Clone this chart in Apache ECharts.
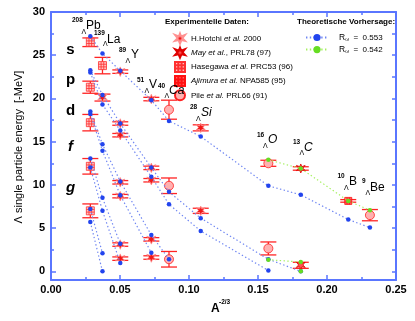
<!DOCTYPE html>
<html>
<head>
<meta charset="utf-8">
<script src="https://cdn.jsdelivr.net/npm/echarts@6/dist/echarts.min.js"></script>
<style>html,body{margin:0;padding:0;background:#fff}#chart{width:415px;height:321px}</style>
</head>
<body>
<div id="chart"></div>
<script>
var nuclei = ['Pb', 'La', 'Y', 'V', 'Ca', 'Si', 'O', 'C', 'B', 'Be'];
var xPos = [0.0285, 0.0373, 0.0502, 0.0727, 0.0855, 0.1085, 0.1575, 0.181, 0.2154, 0.2311];

// theory R = 0.553 (blue), one array per level, null = not bound
var blueS  = [27.2, 25.2, 23.2, 19.8, 17.4, 15.6, 9.9, 8.85, 6.0, 5.06];
var blueP1 = [23.25, 20.4, 17.1, 12.0, 9.2, 6.15, 1.4, 0.0, null, null];
var blueP2 = [23.0, 19.3, 16.3, 10.93, 7.76, 4.67, 0.1, null, null, null];
var blueD1 = [18.5, 14.7, 10.4, 4.2, 1.4, null, null, null, null, null];
var blueD2 = [18.2, 13.95, 8.8, 2.15, null, null, null, null, null, null];
var blueF1 = [13.06, 8.5, 3.2, null, null, null, null, null, null, null];
var blueF2 = [12.0, 7.0, 0.96, null, null, null, null, null, null, null];
var blueG1 = [7.2, 2.1, null, null, null, null, null, null, null, null];
var blueG2 = [5.7, 0.0, null, null, null, null, null, null, null, null];
// theory R = 0.542 (green)
var greenS  = [null, null, null, null, null, null, 12.9, 11.9, 8.15, 7.07];
var greenP1 = [null, null, null, null, null, null, 1.35, 1.08, null, null];
var greenP2 = [null, null, null, null, null, null, null, 0.0, null, null];

// experiments: nucleus, energy, error
var hotchiNuc = ['La', 'Y', 'Y', 'Y', 'Y', 'Y', 'Y', 'Y', 'V', 'V', 'V', 'V', 'V', 'Si', 'Si'];
var hotchiE   = [20.1, 23.1, 17.1, 15.75, 10.3, 8.7, 3.1, 1.47, 19.93, 11.97, 10.54, 3.7, 1.6, 16.6, 7.0];
var hotchiErr = [0.4, 0.2, 0.2, 0.2, 0.2, 0.2, 0.2, 0.2, 0.2, 0.2, 0.2, 0.2, 0.2, 0.35, 0.3];
var mayNuc = ['C', 'C'];
var mayE   = [11.9, 0.7];
var mayErr = [0.2, 0.35];
var hasegawaNuc = ['Pb', 'Pb', 'Pb', 'Pb', 'Pb', 'La'];
var hasegawaE   = [26.5, 21.3, 17.2, 12.15, 7.0, 23.8];
var hasegawaErr = [0.5, 0.7, 0.95, 0.9, 0.8, 0.95];
var ajimuraNuc = ['B'];
var ajimuraE   = [8.15];
var ajimuraErr = [0.15];
var pileNuc = ['Ca', 'Ca', 'Ca', 'O', 'O', 'Be'];
var pileE   = [18.7, 9.9, 1.4, 12.5, 2.65, 6.5];
var pileErr = [1.1, 0.9, 0.9, 0.35, 0.75, 0.65];

var yLabels = [0, 5, 10, 15, 20, 25, 30];
var yMinor = [2.5, 7.5, 12.5, 17.5, 22.5, 27.5];
var yRight = [0, 2.5, 5, 7.5, 10, 12.5, 15, 17.5, 20, 22.5, 25, 27.5, 30];

var FONT = 'Liberation Sans, Arial, sans-serif';
var axisBlue = '#5a76ff';
var red = '#ff2424';

function toPts(arr) {
	var out = [];
	arr.forEach(function (v, i) { if (v !== null) out.push([xPos[i], v]); });
	return out;
}
function expPts(nuc, e, err) {
	return nuc.map(function (n, i) { return [xPos[nuclei.indexOf(n)], e[i], err[i]]; });
}

var starPath = 'path://M5 0L6.2 3L9.8 1.6L7.4 4.6L10 7.4L6.4 6.6L5 10L3.6 6.6L0 7.4L2.6 4.6L0.2 1.6L3.8 3Z';
var hatchBox = 'path://M0 0H10V10H0Z M0 3.3H10 M0 6.6H10 M3.3 0V10 M6.6 0V10';

var expSets = [
	{ name: 'hotchi', pts: expPts(hotchiNuc, hotchiE, hotchiErr), symbol: starPath, size: 9.5, fill: '#f01818', border: '#ff9090' },
	{ name: 'may', pts: expPts(mayNuc, mayE, mayErr), symbol: starPath, size: 9, fill: '#ff5050', border: '#e00000' },
	{ name: 'hasegawa', pts: expPts(hasegawaNuc, hasegawaE, hasegawaErr), symbol: hatchBox, size: 8, fill: '#ffc0c0', border: '#ff3030' },
	{ name: 'ajimura', pts: expPts(ajimuraNuc, ajimuraE, ajimuraErr), symbol: hatchBox, size: 7, fill: '#ff6060', border: '#ff1010' },
	{ name: 'pile', pts: expPts(pileNuc, pileE, pileErr), symbol: 'circle', size: 9, fill: '#ffb0b0', border: '#ff2020' }
];

var legendText = {
	hotchi: '{n|H.Hotchi }{i|et al.}{n| 2000}',
	may: '{i|May et al.}{n|, PRL78 (97)}',
	hasegawa: '{n|Hasegawa }{i|et al.}{n| PRC53 (96)}',
	ajimura: '{i|Ajimura et al.}{n| NPA585 (95)}',
	pile: '{n|Pile }{i|et al.}{n| PRL66 (91)}',
	R553: '{r|R}{sub|ω}{n|  =  0.553}',
	R542: '{r|R}{sub|ω}{n|  =  0.542}'
};

var series = [];
expSets.forEach(function (s) {
	series.push({
		name: s.name, type: 'scatter', data: s.pts, z: 4,
		symbol: s.symbol, symbolSize: s.size,
		itemStyle: { color: s.fill, borderColor: s.border, borderWidth: 0.8, opacity: 1 }
	});
	series.push({
		name: s.name, type: 'custom', data: s.pts, z: 3,
		encode: { x: 0, y: 1 },
		renderItem: function (params, api) {
			var x = api.value(0), y = api.value(1), e = api.value(2);
			var t = api.coord([x, y + e]), b = api.coord([x, y - e]);
			var w = 8, st = { stroke: red, lineWidth: 1.3 };
			return { type: 'group', children: [
				{ type: 'line', shape: { x1: t[0], y1: t[1], x2: b[0], y2: b[1] }, style: st },
				{ type: 'line', shape: { x1: t[0] - w, y1: t[1], x2: t[0] + w, y2: t[1] }, style: st },
				{ type: 'line', shape: { x1: b[0] - w, y1: b[1], x2: b[0] + w, y2: b[1] }, style: st }
			] };
		}
	});
});

[blueS, blueP1, blueP2, blueD1, blueD2, blueF1, blueF2, blueG1, blueG2].forEach(function (arr) {
	series.push({
		name: 'R553', type: 'line', data: toPts(arr), z: 5,
		symbol: 'circle', symbolSize: 4.5, showSymbol: true,
		lineStyle: { color: '#6f86f2', width: 1.2, type: [1.4, 2.4] },
		itemStyle: { color: '#2244ee' }
	});
});
[greenS, greenP1, greenP2].forEach(function (arr) {
	series.push({
		name: 'R542', type: 'line', data: toPts(arr), z: 6,
		symbol: 'circle', symbolSize: 4.5, showSymbol: true,
		lineStyle: { color: '#a6f060', width: 1.2, type: [1.4, 2.4] },
		itemStyle: { color: '#66dd22' }
	});
});

// nucleus labels: mass, symbol, layout
var nucLabels = [
	['208', 'Pb', 72, 20.5, 81.5, 32, 86, 26, false],
	['139', 'La', 94, 33.5, 103, 44, 107, 40, false],
	['89', 'Y', 119, 50, 125.5, 61, 131, 55, false],
	['51', 'V', 137, 80, 144.5, 91, 149, 85, false],
	['40', 'Ca', 158, 86, 164.5, 96, 169, 91, true],
	['28', 'Si', 190, 107, 196, 119, 201, 112.5, true],
	['16', 'O', 257, 135, 263, 146, 268, 140, true],
	['13', 'C', 293, 142.5, 299.5, 153.5, 304, 148, true],
	['10', 'B', 337.5, 176.5, 344, 188.5, 349, 182, false],
	['9', 'Be', 362, 181.5, 365.5, 193.5, 370, 187.5, false]
];
var graphics = [];
function txt(x, y, text, size, extra) {
	var st = { text: text, fontSize: size, fontFamily: FONT, fill: '#000', textVerticalAlign: 'middle', textAlign: 'left' };
	for (var k in (extra || {})) st[k] = extra[k];
	return { type: 'text', x: x, y: y, style: st, z: 10 };
}
nucLabels.forEach(function (n) {
	graphics.push(txt(n[2], n[3], n[0], 6.5, { fontWeight: 'bold' }));
	graphics.push(txt(n[4], n[5], 'Λ', 7, {}));
	graphics.push(txt(n[6], n[7], n[1], 12, { fontStyle: n[8] ? 'italic' : 'normal' }));
});
var shells = [['s', 50, false], ['p', 80, false], ['d', 111, false], ['f', 147, true], ['g', 188, true]];
shells.forEach(function (s) {
	graphics.push(txt(70.5, s[1], s[0], 15, { fontWeight: 'bold', textAlign: 'center', fontStyle: s[2] ? 'italic' : 'normal' }));
});
graphics.push(txt(165, 21.7, 'Experimentelle Daten:', 8, { fontWeight: 'bold' }));
graphics.push(txt(297, 21.7, 'Theoretische Vorhersage:', 8, { fontWeight: 'bold' }));
graphics.push({ type: 'text', x: 19, y: 147, rotation: Math.PI / 2, z: 10,
	style: { text: 'Λ single particle energy  [-MeV]', fontSize: 11, fontFamily: FONT, fill: '#000', textAlign: 'center', textVerticalAlign: 'middle' } });
graphics.push(txt(211, 309, 'A', 12, { fontWeight: 'bold' }));
graphics.push(txt(219, 302, '-2/3', 6.5, { fontWeight: 'bold' }));

function xAx(pos, showLabel) {
	return {
		type: 'value', position: pos, min: 0, max: 0.25, interval: 0.05,
		axisLine: { show: true, onZero: false, lineStyle: { color: axisBlue, width: 2 } },
		axisTick: { inside: true, length: 5, lineStyle: { color: axisBlue, width: 1.5 } },
		minorTick: { show: true, splitNumber: 2, length: 3, lineStyle: { color: axisBlue, width: 1.5 } },
		axisLabel: { show: showLabel, color: '#000', fontFamily: FONT, fontWeight: 'bold', fontSize: 11, margin: 4,
			formatter: function (v) { return v.toFixed(2); } },
		splitLine: { show: false }
	};
}

var chart = echarts.init(document.getElementById('chart'));
chart.setOption({
	animation: false,
	grid: { left: 51, right: 19, top: 12, bottom: 41 },
	xAxis: [xAx('bottom', true), xAx('top', false)],
	yAxis: [
		{ type: 'value', position: 'left', min: -1, max: 30,
			axisLine: { show: true, onZero: false, lineStyle: { color: axisBlue, width: 2 } },
			axisTick: { inside: true, length: 5, customValues: yLabels, lineStyle: { color: axisBlue, width: 1.5 } },
			axisLabel: { customValues: yLabels, color: '#000', fontFamily: FONT, fontWeight: 'bold', fontSize: 11, margin: 6 },
			splitLine: { show: false } },
		{ type: 'value', position: 'left', min: -1, max: 30,
			axisLine: { show: false },
			axisTick: { inside: true, length: 3, customValues: yMinor, lineStyle: { color: axisBlue, width: 1.5 } },
			axisLabel: { show: false }, splitLine: { show: false } },
		{ type: 'value', position: 'right', min: -1, max: 30,
			axisLine: { show: true, onZero: false, lineStyle: { color: axisBlue, width: 2 } },
			axisTick: { inside: true, length: 4, customValues: yRight, lineStyle: { color: axisBlue, width: 1.5 } },
			axisLabel: { show: false }, splitLine: { show: false } }
	],
	legend: [
		{ orient: 'vertical', left: 169, top: 27.5, itemWidth: 12, itemHeight: 10, itemGap: 2.2, selectedMode: false,
			data: ['hotchi', 'may', 'hasegawa', 'ajimura', 'pile'],
			formatter: function (n) { return legendText[n]; },
			textStyle: { color: '#000', fontFamily: FONT, fontSize: 8, rich: {
				n: { fontSize: 8, fontFamily: FONT, lineHeight: 10 },
				i: { fontSize: 8, fontFamily: FONT, fontStyle: 'italic', lineHeight: 10 } } } },
		{ orient: 'vertical', left: 300, top: 28, itemWidth: 22, itemHeight: 9, itemGap: 2.6, selectedMode: false,
			data: ['R553', 'R542'],
			formatter: function (n) { return legendText[n]; },
			textStyle: { color: '#000', fontFamily: FONT, fontSize: 8, rich: {
				r: { fontSize: 8.5, fontFamily: FONT, padding: [0, 0, 0, 6], lineHeight: 10 },
				sub: { fontSize: 5, fontFamily: FONT, verticalAlign: 'bottom', lineHeight: 10 },
				n: { fontSize: 8, fontFamily: FONT, lineHeight: 10 } } } }
	],
	graphic: graphics,
	series: series
});
</script>
</body>
</html>
